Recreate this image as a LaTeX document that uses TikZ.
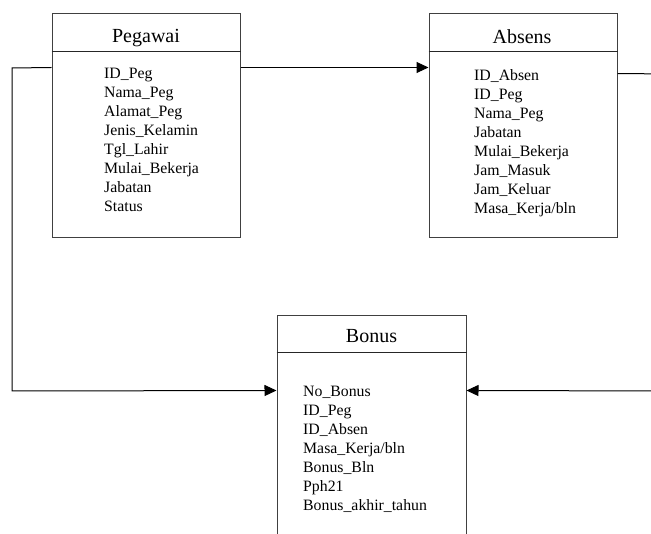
\documentclass[tikz,border=0pt]{standalone}
\usepackage{fontspec}
\setmainfont{Liberation Serif}
\usetikzlibrary{arrows.meta}
\begin{document}
\begin{tikzpicture}[x=1pt,y=-1pt,
  entity/.style={draw=black!75, line width=1pt, rectangle, inner sep=0pt},
  headline/.style={draw=black!85, line width=1pt},
  title/.style={font=\fontsize{20}{24}\selectfont, anchor=base, inner sep=0pt},
  attr/.style={font=\fontsize{15.8}{19}\selectfont, anchor=base west, inner sep=0pt},
  link/.style={draw=black, line width=1pt},
  arrowlink/.style={link, -{Triangle[length=12pt,width=11pt]}}]
\useasboundingbox (0,0) rectangle (651,534);
\clip (0,0) rectangle (651,534);

% entity boxes
\node[entity, minimum width=188pt, minimum height=224pt] (peg) at (146,126) {};
\node[entity, minimum width=188pt, minimum height=224pt] (abs) at (523,126) {};
\node[entity, minimum width=189pt, minimum height=244pt] (bon) at (371.5,438) {};

% header separators
\draw[headline] ([yshift=-38pt]peg.north west) -- ([yshift=-38pt]peg.north east);
\draw[headline] ([yshift=-38pt]abs.north west) -- ([yshift=-38pt]abs.north east);
\draw[headline] ([yshift=-37pt]bon.north west) -- ([yshift=-37pt]bon.north east);

% titles
\node[title] (peg-title) at (146,42.5) {Pegawai};
\node[title] (abs-title) at (522,43.5) {Absens};
\node[title] (bon-title) at (371.5,343) {Bonus};

% attributes
\foreach \t [count=\i from 0] in {ID\_Peg, Nama\_Peg, Alamat\_Peg, Jenis\_Kelamin, Tgl\_Lahir, Mulai\_Bekerja, Jabatan, Status}
  \node[attr] (peg-a\i) at (104,{79+19*\i}) {\t};
\foreach \t [count=\i from 0] in {ID\_Absen, ID\_Peg, Nama\_Peg, Jabatan, Mulai\_Bekerja, Jam\_Masuk, Jam\_Keluar, Masa\_Kerja/bln}
  \node[attr] (abs-a\i) at (474,{81+19*\i}) {\t};
\foreach \t [count=\i from 0] in {No\_Bonus, ID\_Peg, ID\_Absen, Masa\_Kerja/bln, Bonus\_Bln, Pph21, Bonus\_akhir\_tahun}
  \node[attr] (bon-a\i) at (303,{397+19*\i}) {\t};

% connector bends
\coordinate (lcorner) at (12,68);
\coordinate (lbend) at (12,391);
\coordinate (rtop) at (670,74);
\coordinate (rbot) at (670,391);

% relations
\draw[arrowlink] ([yshift=-54pt]peg.north west) -- (lcorner) -- (lbend) -- ([yshift=-75pt]bon.north west);
\draw[arrowlink] ([yshift=-54pt]peg.north east) -- ([yshift=-54pt]abs.north west);
\draw[arrowlink] ([yshift=-60pt]abs.north east) -- (rtop) -- (rbot) -- ([yshift=-75pt]bon.north east);
\end{tikzpicture}
\end{document}
